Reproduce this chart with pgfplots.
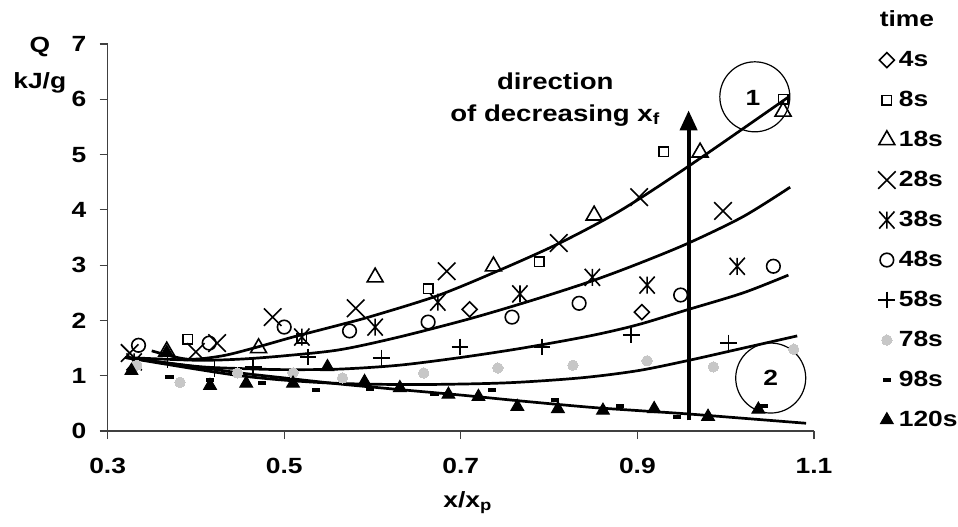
\documentclass[border=0pt]{standalone}
\usepackage{fontspec}
\setmainfont{Liberation Sans}[FakeStretch=1.2]
\usepackage{pgfplots}
\pgfplotsset{compat=1.18}
\usetikzlibrary{arrows.meta}

\pgfdeclareplotmark{myast}{%
 \pgfpathmoveto{\pgfqpoint{0pt}{\pgfplotmarksize}}\pgfpathlineto{\pgfqpoint{0pt}{-\pgfplotmarksize}}%
 \pgfpathmoveto{\pgfqpoint{-0.9\pgfplotmarksize}{\pgfplotmarksize}}\pgfpathlineto{\pgfqpoint{0.9\pgfplotmarksize}{-\pgfplotmarksize}}%
 \pgfpathmoveto{\pgfqpoint{0.9\pgfplotmarksize}{\pgfplotmarksize}}\pgfpathlineto{\pgfqpoint{-0.9\pgfplotmarksize}{-\pgfplotmarksize}}%
 \pgfusepathqstroke}
\pgfdeclareplotmark{dash}{%
 \pgfpathrectangle{\pgfqpoint{-\pgfplotmarksize}{-0.48\pgfplotmarksize}}{\pgfqpoint{2\pgfplotmarksize}{0.96\pgfplotmarksize}}%
 \pgfusepathqfill}

\begin{document}
\begin{tikzpicture}[font=\fontsize{11bp}{13bp}\selectfont\bfseries]
\useasboundingbox (0,0) rectangle (479bp,263.5bp);
\begin{axis}[
 at={(53.8bp,48bp)}, anchor=south west,
 scale only axis, width=353.2bp, height=193.5bp,
 xmin=0.3, xmax=1.1, ymin=0, ymax=7,
 clip=false,
 axis lines*=left,
 axis line style={black!75, line width=0.6bp},
 tick style={black!75, line width=0.6bp},
 tick align=outside, major tick length=4bp,
 xtick={0.3,0.5,0.7,0.9,1.1}, xticklabels={0.3,0.5,0.7,0.9,1.1},
 ytick={0,1,2,3,4,5,6,7}, yticklabels={0,1,2,3,4,5,6,7},
 xticklabel style={inner sep=0pt, anchor=north, yshift=-9.5bp},
 yticklabel style={inner sep=0pt, anchor=east, xshift=-6.5bp},
 xlabel={x/x\textsubscript{p}},
 xlabel style={at={(rel axis cs:0.51,-0.186)}, anchor=center, inner sep=0pt},
 ylabel={Q\\kJ/g},
 ylabel style={rotate=-90, align=center, font=\fontsize{11bp}{18bp}\selectfont\bfseries, at={(rel axis cs:-0.096,0.945)}, anchor=center, inner sep=0pt},
 legend style={draw=none, fill=none, at={(rel axis cs:1.089,1.093)}, anchor=north west,
   inner sep=0pt, outer sep=0pt, row sep=8bp,
   nodes={inner sep=1bp, text height=8bp, text depth=2bp}},
 legend cell align=left,
 legend image code/.code={\path[draw=none,fill=none] (-5bp,-4bp) rectangle (5bp,4bp); \draw[#1] plot coordinates {(0bp,0bp)};},
]
\addlegendimage{empty legend}\addlegendentry{\hspace*{-9.5bp}time}

% fitted curves
\addplot[smooth, line width=1.35bp, forget plot] coordinates {(0.35,1.45) (0.39,1.30) (0.43,1.36) (0.47,1.52) (0.51,1.70) (0.563,1.92) (0.60,2.08) (0.674,2.45) (0.744,2.91) (0.812,3.40) (0.88,3.98) (0.958,4.79) (1.071,6.04)};
\addplot[smooth, line width=1.35bp, forget plot] coordinates {(0.32,1.33) (0.40,1.28) (0.45,1.30) (0.50,1.36) (0.563,1.47) (0.63,1.70) (0.71,2.03) (0.78,2.36) (0.846,2.70) (0.90,3.02) (0.958,3.40) (1.02,3.88) (1.073,4.41)};
\addplot[smooth, line width=1.35bp, forget plot] coordinates {(0.32,1.33) (0.40,1.17) (0.45,1.13) (0.50,1.11) (0.563,1.12) (0.63,1.19) (0.70,1.33) (0.77,1.50) (0.846,1.72) (0.90,1.92) (0.956,2.19) (1.02,2.50) (1.071,2.82)};
\addplot[smooth, line width=1.35bp, forget plot] coordinates {(0.32,1.33) (0.40,1.12) (0.45,1.00) (0.50,0.92) (0.563,0.86) (0.65,0.84) (0.75,0.87) (0.835,0.96) (0.90,1.09) (0.956,1.27) (1.02,1.50) (1.081,1.72)};
\addplot[smooth, line width=1.35bp, forget plot] coordinates {(0.32,1.33) (0.40,1.16) (0.45,1.05) (0.50,0.96) (0.563,0.85) (0.63,0.75) (0.70,0.65) (0.77,0.54) (0.846,0.43) (0.90,0.37) (0.956,0.31) (1.02,0.23) (1.091,0.14)};

% data
\addplot[only marks, mark=square, mark size=2.65bp, mark options={rotate=45, line width=0.8bp}] coordinates {(0.71,2.20) (0.905,2.15)};
\addlegendentry{4s}
\addplot[only marks, mark=square, mark size=2.35bp, mark options={line width=0.8bp}] coordinates {(0.391,1.66) (0.52,1.68) (0.663,2.57) (0.789,3.06) (0.93,5.05) (1.065,6.0)};
\addlegendentry{8s}
\addplot[only marks, mark=triangle, mark size=4.6bp, mark options={line width=0.8bp}] coordinates {(0.367,1.44) (0.471,1.50) (0.603,2.78) (0.737,2.98) (0.851,3.90) (0.971,5.04) (1.065,5.78)};
\addlegendentry{18s}
\addplot[only marks, mark=x, mark size=6.2bp, mark options={line width=0.8bp}] coordinates {(0.325,1.41) (0.40,1.43) (0.424,1.59) (0.487,2.06) (0.581,2.22) (0.684,2.89) (0.811,3.40) (0.902,4.23) (0.997,3.98)};
\addlegendentry{28s}
\addplot[only marks, mark=myast, mark size=4.25bp, mark options={line width=0.8bp}] coordinates {(0.33,1.25) (0.52,1.70) (0.603,1.88) (0.674,2.33) (0.767,2.48) (0.849,2.78) (0.911,2.64) (1.013,2.98)};
\addlegendentry{38s}
\addplot[only marks, mark=o, mark size=3.4bp, mark options={line width=0.8bp}] coordinates {(0.335,1.55) (0.415,1.59) (0.50,1.88) (0.574,1.81) (0.663,1.97) (0.758,2.06) (0.834,2.31) (0.949,2.46) (1.054,2.98)};
\addlegendentry{48s}
\addplot[only marks, mark=+, mark size=4.2bp, mark options={line width=0.8bp}] coordinates {(0.368,1.30) (0.421,1.12) (0.465,1.16) (0.527,1.34) (0.61,1.32) (0.699,1.52) (0.792,1.52) (0.893,1.74) (1.003,1.59)};
\addlegendentry{58s}
\addplot[only marks, color=black!22, mark=*, mark size=2.6bp, mark options={draw=black!22, fill=black!22, line width=0pt}] coordinates {(0.333,1.19) (0.382,0.88) (0.447,1.05) (0.51,1.05) (0.566,0.96) (0.658,1.05) (0.742,1.14) (0.827,1.19) (0.911,1.27) (0.986,1.16) (1.077,1.48)};
\addlegendentry{78s}
\addplot[only marks, mark=dash, mark size=2.1bp, mark options={fill=black, draw=none}] coordinates {(0.370,0.98) (0.416,0.92) (0.475,0.87) (0.536,0.74) (0.597,0.76) (0.67,0.67) (0.735,0.74) (0.807,0.56) (0.88,0.45) (0.945,0.25) (1.043,0.45)};
\addlegendentry{98s}
\addplot[only marks, mark=triangle*, mark size=3.7bp, mark options={fill=black, line width=0.5bp}] coordinates {(0.327,1.09) (0.367,1.42) (0.416,0.82) (0.457,0.86) (0.51,0.86) (0.549,1.16) (0.591,0.89) (0.631,0.78) (0.686,0.66) (0.72,0.62) (0.764,0.44) (0.81,0.40) (0.861,0.37) (0.919,0.40) (0.98,0.26) (1.037,0.39)};
\addlegendentry{120s}

% annotations
\draw[line width=2bp, -{Triangle[width=8.5bp,length=10bp]}] (axis cs:0.958,0.19) -- (axis cs:0.958,5.80);
\node[align=center, font=\fontsize{11.5bp}{16bp}\selectfont\bfseries] at (axis cs:0.807,6.0) {direction\\of decreasing x\textsubscript{f}};
\draw[line width=0.6bp] (axis cs:1.033,6.045) circle[radius=17.5bp];
\node at (axis cs:1.031,6.03) {1};
\draw[line width=0.6bp] (axis cs:1.051,0.958) circle[radius=17.5bp];
\node at (axis cs:1.051,0.958) {2};
\end{axis}
\end{tikzpicture}
\end{document}
